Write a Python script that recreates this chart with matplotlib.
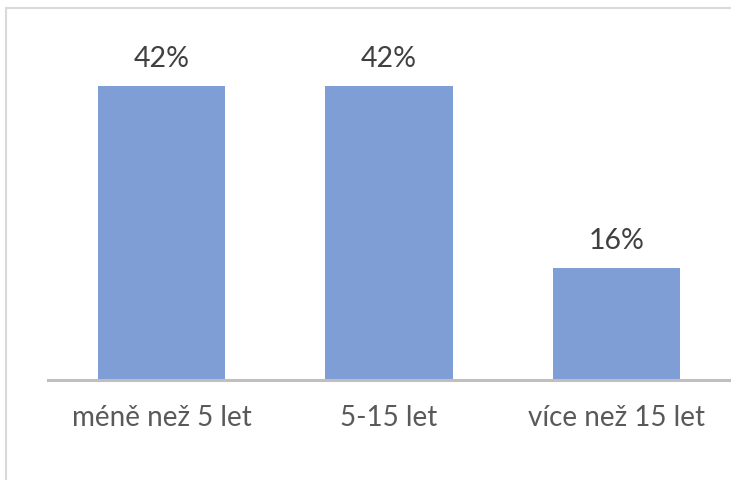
import matplotlib
matplotlib.use("Agg")
import matplotlib.pyplot as plt
from matplotlib.patches import Rectangle

categories = ["méně než 5 let", "5-15 let", "více než 15 let"]
values = [42, 42, 16]
labels = ["42%", "42%", "16%"]

W, H = 731, 480
fig = plt.figure(figsize=(W / 100, H / 100), dpi=100)
plt.rcParams['font.family'] = ['Lato', 'DejaVu Sans']

# axes: left 48, right 730, bottom (baseline) 380, top 8
left, right, base, top = 48, 730, 380, 8
ax = fig.add_axes([left / W, (H - base) / H, (right - left) / W, (base - top) / H])
ymax = (base - top) / 7.0
ax.set_xlim(-0.5, 2.5)
ax.set_ylim(0, ymax)

x = range(len(categories))
bars = ax.bar(x, values, width=0.56, color="#7F9ED6", zorder=2)
for xi, v, lab in zip(x, values, labels):
    ax.text(xi, v + 2.0, lab, ha="center", va="bottom", fontsize=20.5, color="#404040")

ax.set_xticks(list(x))
ax.set_xticklabels(categories, fontsize=20, color="#595959")
ax.tick_params(axis="x", length=0, pad=18)
ax.set_yticks([])
for s in ["top", "right", "left"]:
    ax.spines[s].set_visible(False)
ax.spines["bottom"].set_color("#BFBFBF")
ax.spines["bottom"].set_linewidth(2.2)
ax.spines["bottom"].set_zorder(3)
ax.patch.set_alpha(0)

# outer chart border
fig.patches.append(Rectangle((6 / W, -0.05), 1.1, (H - 8) / H + 0.05, transform=fig.transFigure,
                             fill=False, edgecolor="#D9D9D9", linewidth=1.5))

fig.savefig("out.png", dpi=100)
